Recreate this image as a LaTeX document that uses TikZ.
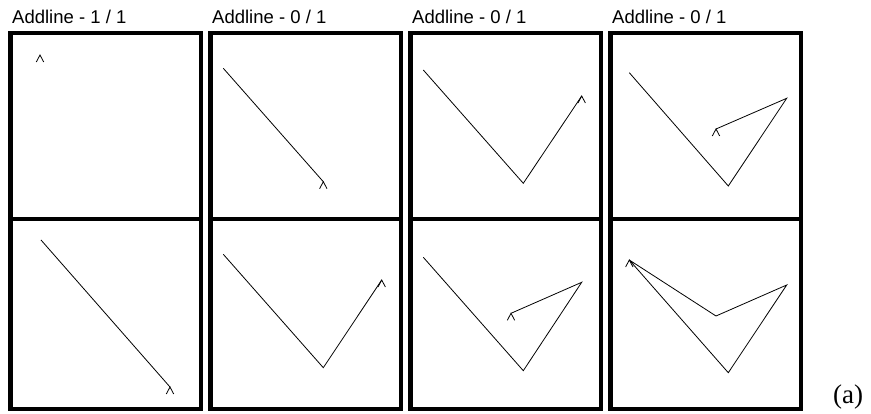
\documentclass[tikz,border=0pt]{standalone}
\usepackage{fontspec}
\setmainfont{Liberation Sans}
\newfontfamily\capserif{Liberation Serif}
\tikzset{
  panel/.style={draw=black, line width=4.5pt},
  stroke/.style={draw=black, line width=0.8pt, line join=miter},
  caretmark/.pic={\draw[stroke] (-3.7,7) -- (0,0) -- (3.7,7);},
  ttl/.style={anchor=base west, inner sep=0pt, font=\fontsize{18.5}{21}\selectfont},
}
\begin{document}
\begin{tikzpicture}[x=1pt,y=-1pt]
\useasboundingbox (0,0) rectangle (871,414);
% titles
\node[ttl] (t1) at (12,23.5) {Addline - 1 / 1};
\node[ttl] (t2) at (212,23.5) {Addline - 0 / 1};
\node[ttl] (t3) at (412,23.5) {Addline - 0 / 1};
\node[ttl] (t4) at (612,23.5) {Addline - 0 / 1};
% panels
\foreach \x in {10.5,210.5,410.5,610.5}{
  \draw[panel] (\x,33) rectangle (\x+190.5,219);
  \draw[panel] (\x,219) rectangle (\x+190.5,409);
}
% panel 1 top
\pic at (40,55) {caretmark};
% panel 1 bottom
\coordinate (a1) at (41,240);
\coordinate (a2) at (170,387);
\draw[stroke] (a1) -- (a2);
\pic at (a2) {caretmark};
% panel 2 top
\coordinate (b1) at (223.3,68.3);
\coordinate (b2) at (323.3,181.7);
\draw[stroke] (b1) -- (b2);
\pic at (b2) {caretmark};
% panel 2 bottom
\coordinate (c1) at (223.3,254.3);
\coordinate (c2) at (323.3,367.7);
\coordinate (c3) at (381.7,280);
\draw[stroke] (c1) -- (c2) -- (c3);
\pic at (c3) {caretmark};
% panel 3 top
\coordinate (d1) at (423.3,70);
\coordinate (d2) at (523.3,183.3);
\coordinate (d3) at (581.7,96);
\draw[stroke] (d1) -- (d2) -- (d3);
\pic at (d3) {caretmark};
% panel 3 bottom
\coordinate (e1) at (423.3,257.3);
\coordinate (e2) at (523.3,370.7);
\coordinate (e3) at (581.7,282.3);
\coordinate (e4) at (511,313.3);
\draw[stroke] (e1) -- (e2) -- (e3) -- (e4);
\pic at (e4) {caretmark};
% panel 4 top
\coordinate (f1) at (629.3,72.7);
\coordinate (f2) at (728.3,186);
\coordinate (f3) at (786.7,98.3);
\coordinate (f4) at (716,129);
\draw[stroke] (f1) -- (f2) -- (f3) -- (f4);
\pic at (f4) {caretmark};
% panel 4 bottom
\coordinate (g1) at (629.3,260);
\coordinate (g2) at (728.3,372.7);
\coordinate (g3) at (786.7,285);
\coordinate (g4) at (716,316);
\draw[stroke] (g1) -- (g2) -- (g3) -- (g4) -- (g1);
\pic at (g1) {caretmark};
% label
\node[inner sep=0pt, font=\capserif\fontsize{27}{30}\selectfont] (lab) at (848,397) {(a)};
\end{tikzpicture}
\end{document}
